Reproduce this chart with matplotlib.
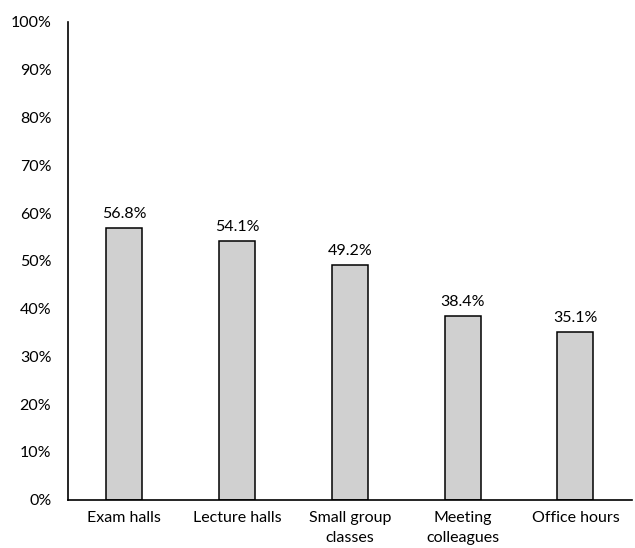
import matplotlib.pyplot as plt
from matplotlib.ticker import PercentFormatter

categories = ["Exam halls", "Lecture halls", "Small group\nclasses", "Meeting\ncolleagues", "Office hours"]
shares = [56.8, 54.1, 49.2, 38.4, 35.1]

plt.rcParams['font.family'] = ['Lato', 'DejaVu Sans']

fig = plt.figure(figsize=(6.35, 5.48), dpi=100)
ax = fig.add_axes([0.107, 0.088, 0.888, 0.872])

x = range(len(categories))
ax.bar(x, shares, width=0.32, color="#d0d0d0", edgecolor="black", linewidth=1.1)

for xi, v in zip(x, shares):
    ax.text(xi, v + 1.5, f"{v:.1f}%", ha="center", va="bottom", fontsize=11.5)

ax.set_xlim(-0.5, len(categories) - 0.5)
ax.set_ylim(0, 100)
ax.set_yticks(range(0, 101, 10))
ax.yaxis.set_major_formatter(PercentFormatter(decimals=0))
ax.set_xticks(list(x))
ax.set_xticklabels(categories, fontsize=11.5, linespacing=1.6)
ax.tick_params(axis="y", length=0, labelsize=11.5, pad=12)
ax.tick_params(axis="x", length=0, pad=8)

for side in ("top", "right"):
    ax.spines[side].set_visible(False)
ax.spines["left"].set_linewidth(1.2)
ax.spines["bottom"].set_linewidth(1.2)

fig.savefig("out.png", dpi=100)
